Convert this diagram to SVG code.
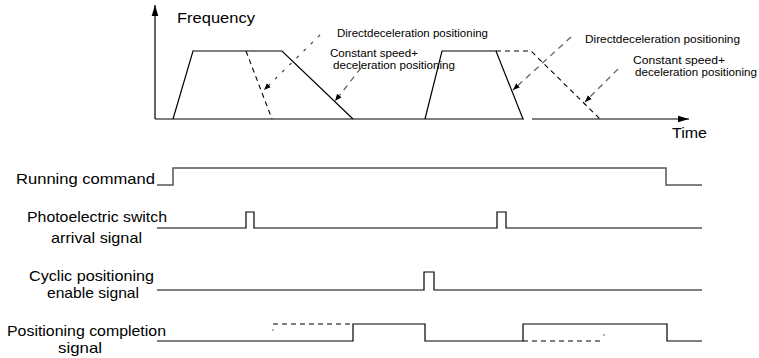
<svg xmlns="http://www.w3.org/2000/svg" width="759" height="358" viewBox="0 0 759 358">
<style>
.lbl{font-family:"Liberation Sans",Arial,sans-serif;font-size:15px;fill:#000}
.sm{font-family:"Liberation Sans",Arial,sans-serif;font-size:10px;fill:#000}
.ln{fill:none;stroke:#000;stroke-width:1.2}
.sig{fill:none;stroke:#000;stroke-width:1.2}
.gsig{fill:none;stroke:#555;stroke-width:1.5}
.dash{fill:none;stroke:#000;stroke-width:1.1;stroke-dasharray:5 4}
.gdash{fill:none;stroke:#666;stroke-width:1.3;stroke-dasharray:6 5}
.dot{fill:none;stroke:#444;stroke-width:1.2;stroke-dasharray:3 7}
</style>
<defs>
<marker id="ah" viewBox="0 0 10 10" refX="10" refY="5" markerWidth="7" markerHeight="7" markerUnits="userSpaceOnUse" orient="auto">
<path d="M0,1 L10,5 L0,9 Z" fill="#000"/>
</marker>
<marker id="axh" viewBox="0 0 10 10" refX="10" refY="5" markerWidth="11" markerHeight="11" markerUnits="userSpaceOnUse" orient="auto">
<path d="M0,2 L10,5 L0,8 Z" fill="#000"/>
</marker>
</defs>

<g id="axes">
<line class="ln" x1="155" y1="119" x2="155" y2="5" marker-end="url(#axh)"/>
<line class="ln" x1="155" y1="119" x2="524" y2="119"/>
<line class="ln" x1="532" y1="119" x2="689" y2="119" marker-end="url(#axh)"/>
<text class="lbl" x="177" y="23" textLength="78" lengthAdjust="spacingAndGlyphs">Frequency</text>
<text class="lbl" x="672" y="138" textLength="35" lengthAdjust="spacingAndGlyphs">Time</text>
</g>

<g id="curve1">
<polyline class="ln" points="173,119 193,51 282,51 353,119"/>
<line class="dash" x1="246" y1="51" x2="272" y2="119"/>
</g>

<g id="curve2">
<polyline class="ln" points="425,119 442,51 496,51 523,119"/>
<polyline class="dash" points="496,51 531,51 600,119"/>
</g>

<g id="connectors">
<line class="dot" x1="320" y1="35" x2="264" y2="90" marker-end="url(#ah)"/>
<line class="gdash" x1="361" y1="68" x2="335" y2="101" marker-end="url(#ah)"/>
<line class="gdash" x1="571" y1="37" x2="513" y2="90" marker-end="url(#ah)"/>
<line class="gdash" x1="618" y1="69" x2="585" y2="102" marker-end="url(#ah)"/>
</g>

<g id="labels-top">
<text class="sm" x="337" y="37" textLength="151" lengthAdjust="spacingAndGlyphs">Directdeceleration positioning</text>
<text class="sm" x="330" y="57" textLength="88" lengthAdjust="spacingAndGlyphs">Constant speed+</text>
<text class="sm" x="333" y="69" textLength="122" lengthAdjust="spacingAndGlyphs">deceleration positioning</text>
<text class="sm" x="585" y="43" textLength="155" lengthAdjust="spacingAndGlyphs">Directdeceleration  positioning</text>
<text class="sm" x="633" y="64" textLength="92" lengthAdjust="spacingAndGlyphs">Constant speed+</text>
<text class="sm" x="635" y="76" textLength="122" lengthAdjust="spacingAndGlyphs">deceleration positioning</text>
</g>

<g id="running">
<text class="lbl" x="16" y="184" textLength="139" lengthAdjust="spacingAndGlyphs">Running command</text>
<polyline class="gsig" points="157,185 173,185 173,168 666,168 666,185 702,185"/>
</g>

<g id="photo">
<text class="lbl" x="27" y="222" textLength="140" lengthAdjust="spacingAndGlyphs">Photoelectric switch</text>
<text class="lbl" x="51" y="243" textLength="91" lengthAdjust="spacingAndGlyphs">arrival signal</text>
<polyline class="sig" points="157,228 246,228 246,212 254,212 254,228 497,228 497,212 506,212 506,228 702,228"/>
</g>

<g id="cyclic">
<text class="lbl" x="29" y="281" textLength="125" lengthAdjust="spacingAndGlyphs">Cyclic positioning</text>
<text class="lbl" x="47" y="298" textLength="92" lengthAdjust="spacingAndGlyphs">enable signal</text>
<polyline class="sig" points="157,290 424,290 424,272 434,272 434,290 702,290"/>
</g>

<g id="completion">
<text class="lbl" x="7" y="336" textLength="159" lengthAdjust="spacingAndGlyphs">Positioning completion</text>
<text class="lbl" x="58" y="353" textLength="44" lengthAdjust="spacingAndGlyphs">signal</text>
<polyline class="sig" points="157,341 353,341 353,324 425,324 425,341 523,341 523,324 667,324 667,341 702,341"/>
<line class="dash" x1="273" y1="324" x2="353" y2="324"/>
<line class="dash" x1="523" y1="341" x2="604" y2="341"/>
<line x1="273" y1="329" x2="273" y2="331" stroke="#666" stroke-width="1"/>
<line x1="604" y1="334" x2="604" y2="336" stroke="#666" stroke-width="1"/>
</g>
</svg>
